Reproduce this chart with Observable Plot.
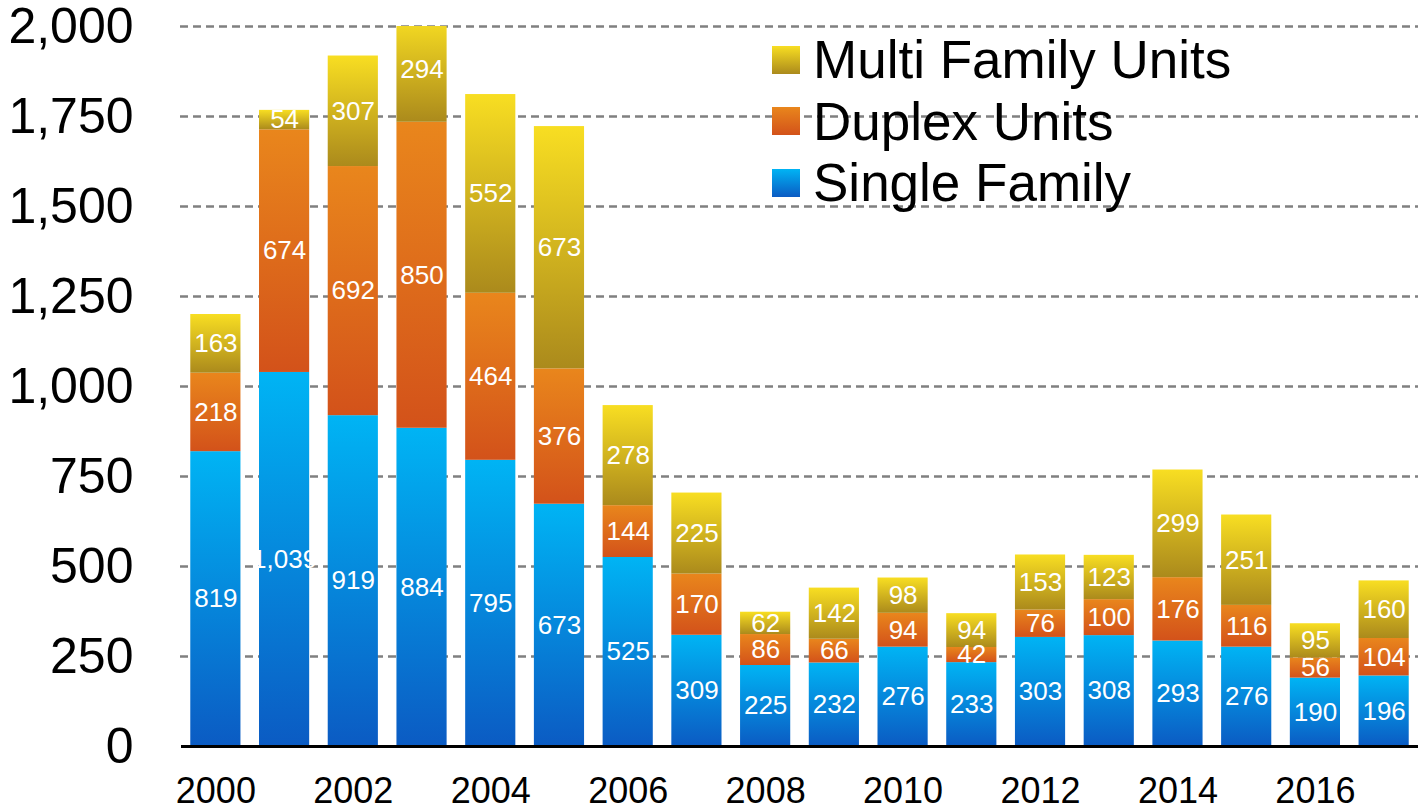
<!DOCTYPE html>
<html><head><meta charset="utf-8">
<script src="https://cdn.jsdelivr.net/npm/d3@7"></script>
<script src="https://cdn.jsdelivr.net/npm/@observablehq/plot@0.6"></script>
<style>
html,body{margin:0;padding:0;background:#fff;}
#chart{position:relative;width:1418px;height:811px;font-family:"Liberation Sans",Arial,sans-serif;}
#legend{position:absolute;left:772px;top:29px;}
.li{display:flex;align-items:center;height:61.5px;font-size:53px;color:#000;}
.sw{width:28px;height:28px;margin-right:13px;}
</style></head>
<body><div id="chart"><div id="legend"></div></div>
<script>
const years = [2000,2001,2002,2003,2004,2005,2006,2007,2008,2009,2010,2011,2012,2013,2014,2015,2016,2017];
const singleFamily = [819,1039,919,884,795,673,525,309,225,232,276,233,303,308,293,276,190,196];
const duplexUnits  = [218,674,692,850,464,376,144,170,86,66,94,42,76,100,176,116,56,104];
const multiFamily  = [163,54,307,294,552,673,278,225,62,142,98,94,153,123,299,251,95,160];
const seriesNames = ["Single Family","Duplex Units","Multi Family Units"];
const yTicks = [0,250,500,750,1000,1250,1500,1750,2000];
const xTickYears = [2000,2002,2004,2006,2008,2010,2012,2014,2016];

const gradients = {
  "Single Family": ["g-single", "#00b4f4", "#0b5bc3"],
  "Duplex Units": ["g-duplex", "#e9861c", "#d3521a"],
  "Multi Family Units": ["g-multi", "#f8de22", "#ab8a1c"]
};

const rows = [];
[singleFamily, duplexUnits, multiFamily].forEach((arr, si) => {
  arr.forEach((v, i) => rows.push({year: years[i], series: seriesNames[si], value: v}));
});

const stackOpts = {x: "year", y: "value", z: "series", order: seriesNames};

const plot = Plot.plot({
  width: 1418,
  height: 811,
  marginLeft: 181,
  marginRight: 0,
  marginTop: 26,
  marginBottom: 65,
  style: {fontFamily: "Liberation Sans, Arial, sans-serif", background: "white", overflow: "visible"},
  x: {type: "band", domain: years, paddingInner: 0.27, paddingOuter: 0.135, round: false, label: null,
      ticks: xTickYears, tickSize: 0, tickPadding: 31, tickFormat: d => String(d)},
  y: {domain: [0, 2000], ticks: yTicks, label: null, tickSize: 0, tickPadding: 48,
      tickFormat: d => d3.format(",")(d)},
  color: {type: "identity"},
  marks: [
    Plot.ruleY(yTicks.filter(t => t > 0), {stroke: "#808080", strokeWidth: 2.5, strokeDasharray: "8,5", insetLeft: -1}),
    Plot.barY(rows, Plot.stackY({...stackOpts, fill: d => `url(#${gradients[d.series][0]})`, clip: true})),
    Plot.text(rows, Plot.stackY({...stackOpts, text: d => d3.format(",")(d.value), fill: "white", fontSize: 26})),
    Plot.ruleY([0], {stroke: "black", strokeWidth: 3})
  ]
});

const svg = d3.select(plot);
const defs = svg.insert("defs", ":first-child");
for (const k of seriesNames) {
  const [id, c1, c2] = gradients[k];
  const g = defs.append("linearGradient").attr("id", id).attr("x1", 0).attr("y1", 0).attr("x2", 0).attr("y2", 1);
  g.append("stop").attr("offset", "0%").attr("stop-color", c1);
  g.append("stop").attr("offset", "100%").attr("stop-color", c2);
}
svg.selectAll("g[aria-label='y-axis tick label']").attr("font-size", 50);
svg.selectAll("g[aria-label='x-axis tick label']").attr("font-size", 36);
document.getElementById("chart").prepend(plot);

const legend = document.getElementById("legend");
[...seriesNames].reverse().forEach(k => {
  const [id, c1, c2] = gradients[k];
  const li = document.createElement("div"); li.className = "li";
  const sw = document.createElement("div"); sw.className = "sw";
  sw.style.background = `linear-gradient(${c1}, ${c2})`;
  li.appendChild(sw);
  li.appendChild(document.createTextNode(k));
  legend.appendChild(li);
});
</script></body></html>
